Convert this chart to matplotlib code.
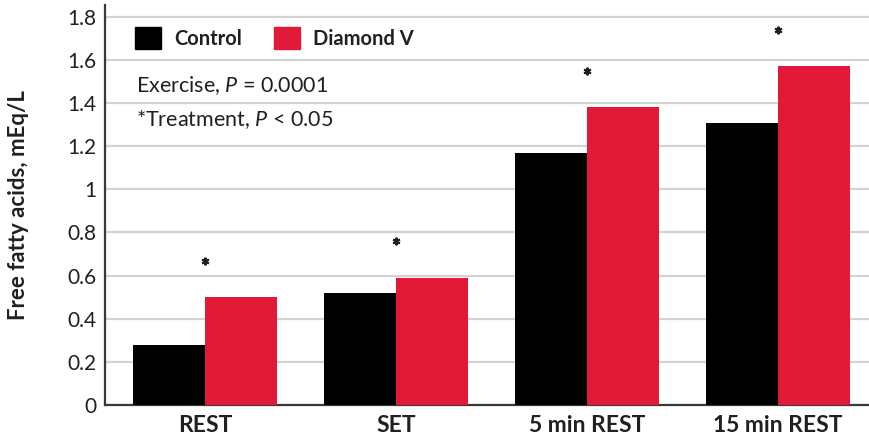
import matplotlib
matplotlib.use('Agg')
import matplotlib.pyplot as plt
import matplotlib.patches as mpatches
import numpy as np

plt.rcParams['font.family'] = 'Lato'
plt.rcParams['mathtext.fontset'] = 'custom'
plt.rcParams['mathtext.rm'] = 'Lato'
plt.rcParams['mathtext.it'] = 'Lato:italic'

categories = ['REST', 'SET', '5 min REST', '15 min REST']
control = [0.28, 0.52, 1.17, 1.31]
diamond_v = [0.50, 0.59, 1.38, 1.57]
significant = [True, True, True, True]
yticks = [0, 0.2, 0.4, 0.6, 0.8, 1, 1.2, 1.4, 1.6, 1.8]
ytick_labels = ['0', '0.2', '0.4', '0.6', '0.8', '1', '1.2', '1.4', '1.6', '1.8']

txt = '#231f20'
red = '#e21a37'

fig = plt.figure(figsize=(8.69, 4.43), dpi=100)
ax = fig.add_axes([0.1208, 0.0858, 0.8792, 0.9029])

x = np.arange(len(categories))
w = 0.377
ax.bar(x - w/2, control, w, color='black', zorder=3)
ax.bar(x + w/2, diamond_v, w, color=red, zorder=3)

# significance marks
for i, s in enumerate(significant):
    if s:
        ax.plot(i, max(control[i], diamond_v[i]) + 0.17, marker=(6, 2, 0),
                ms=5.5, mew=1.5, color=txt, zorder=4)

ax.set_xlim(-0.524, 3.476)
ax.set_ylim(0, 1.855)
ax.set_yticks(yticks)
ax.set_yticklabels(ytick_labels, fontsize=15, color=txt)
ax.set_xticks(x)
ax.set_xticklabels(categories, fontsize=16.5, fontweight='bold', color=txt)
ax.tick_params(axis='both', length=0)
ax.tick_params(axis='y', pad=6)
ax.tick_params(axis='x', pad=7)
ax.grid(axis='y', color='#d3d3d3', lw=1.6, zorder=0)
for sp in ['top', 'right']:
    ax.spines[sp].set_visible(False)
for sp in ['left', 'bottom']:
    ax.spines[sp].set_color('#3a3a3a')
    ax.spines[sp].set_linewidth(1.6)

ax.set_ylabel('Free fatty acids, mEq/L', fontsize=16, fontweight='bold', color=txt)
ax.yaxis.set_label_coords(-0.1, 0.5)

handles = [mpatches.Patch(color='black', label='Control'),
           mpatches.Patch(color=red, label='Diamond V')]
leg = ax.legend(handles=handles, loc='upper left', bbox_to_anchor=(0.015, 0.99),
                ncol=2, frameon=False, handlelength=1.3, handleheight=1.3,
                columnspacing=1.6, handletextpad=0.65,
                prop={'weight': 'bold', 'size': 14.5})
for t in leg.get_texts():
    t.set_color(txt)

ax.text(0.04, 0.7975, 'Exercise, $P$ = 0.0001', transform=ax.transAxes,
        fontsize=15.5, color=txt, va='center')
ax.text(0.04, 0.7125, '*Treatment, $P$ < 0.05', transform=ax.transAxes,
        fontsize=15.5, color=txt, va='center')

fig.savefig('out.png', dpi=100)
